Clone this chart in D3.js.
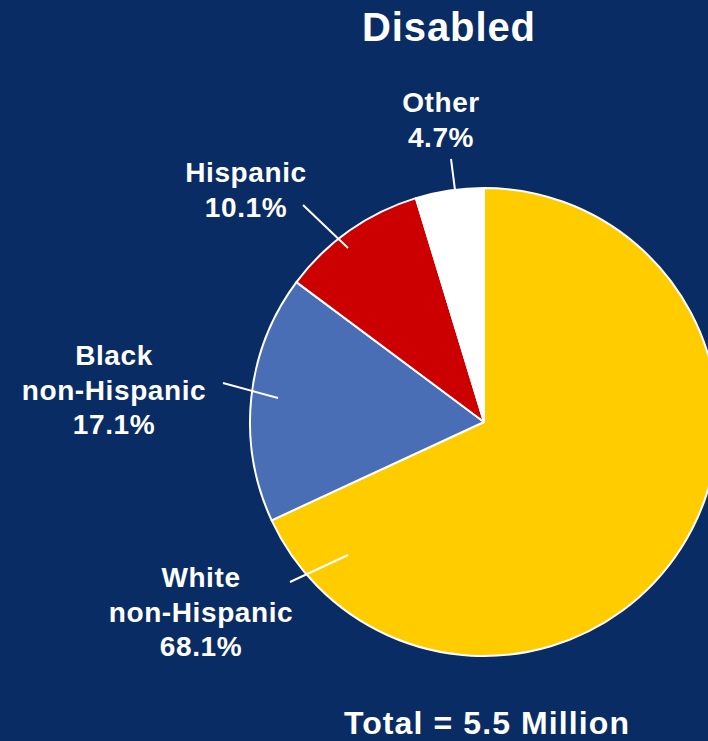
<!DOCTYPE html>
<html>
<head>
<meta charset="utf-8">
<script src="https://cdn.jsdelivr.net/npm/d3@7"></script>
<style>
  html, body { margin: 0; padding: 0; background: #0a2c64; }
  svg { display: block; }
  text { font-family: "Liberation Sans", Arial, sans-serif; font-weight: bold; fill: #ffffff; }
</style>
</head>
<body>
<svg id="chart" width="708" height="741"></svg>
<script>
// ---- data ----
const categories = ["White non-Hispanic", "Black non-Hispanic", "Hispanic", "Other"];
const labelLines = [["White", "non-Hispanic"], ["Black", "non-Hispanic"], ["Hispanic"], ["Other"]];
const values = [68.1, 17.1, 10.1, 4.7];
const colors = ["#ffcc00", "#4a6eb6", "#cc0000", "#ffffff"];
const title = "Disabled";
const footer = "Total = 5.5 Million";

// ---- layout (positions) ----
const W = 708, H = 741;
const cx = 484, cy = 422, R = 234;
// label block centre x / first baseline y, and leader line endpoints
const labelLayout = [
  { x: 201, y: 587, leader: [[290, 582], [348, 555]] },
  { x: 114, y: 365, leader: [[223, 383], [278, 398]] },
  { x: 246, y: 182, leader: [[303, 205], [348, 248]] },
  { x: 441, y: 112, leader: [[451, 159], [455, 190]] }
];

const svg = d3.select("#chart");
svg.append("rect").attr("width", W).attr("height", H).attr("fill", "#0a2c64");

const data = categories.map((c, i) => ({ name: c, value: values[i], color: colors[i], lines: labelLines[i], layout: labelLayout[i] }));

const pie = d3.pie().value(d => d.value).sort(null).startAngle(0).endAngle(2 * Math.PI);
const arc = d3.arc().innerRadius(0).outerRadius(R);

const g = svg.append("g").attr("transform", `translate(${cx},${cy})`);
g.selectAll("path")
  .data(pie(data))
  .join("path")
  .attr("d", arc)
  .attr("fill", d => d.data.color)
  .attr("stroke", "#ffffff")
  .attr("stroke-width", 2)
  .attr("stroke-linejoin", "round");

// leader lines
svg.selectAll("line.leader")
  .data(data)
  .join("line")
  .attr("class", "leader")
  .attr("x1", d => d.layout.leader[0][0])
  .attr("y1", d => d.layout.leader[0][1])
  .attr("x2", d => d.layout.leader[1][0])
  .attr("y2", d => d.layout.leader[1][1])
  .attr("stroke", "#ffffff")
  .attr("stroke-width", 2);

// labels
const fmt = d3.format(".1f");
const lineH = 34.5;
data.forEach(d => {
  const t = svg.append("text")
    .attr("text-anchor", "middle")
    .attr("font-size", 28)
    .attr("letter-spacing", 0.6);
  const lines = d.lines.concat([fmt(d.value) + "%"]);
  lines.forEach((s, j) => {
    t.append("tspan").attr("x", d.layout.x).attr("y", d.layout.y + j * lineH).text(s);
  });
});

// title
svg.append("text")
  .attr("x", 449).attr("y", 41)
  .attr("text-anchor", "middle")
  .attr("font-size", 40)
  .attr("letter-spacing", 0.9)
  .text(title);

// footer
svg.append("text")
  .attr("x", 487).attr("y", 734)
  .attr("text-anchor", "middle")
  .attr("font-size", 32)
  .attr("letter-spacing", 1.1)
  .text(footer);
</script>
</body>
</html>
